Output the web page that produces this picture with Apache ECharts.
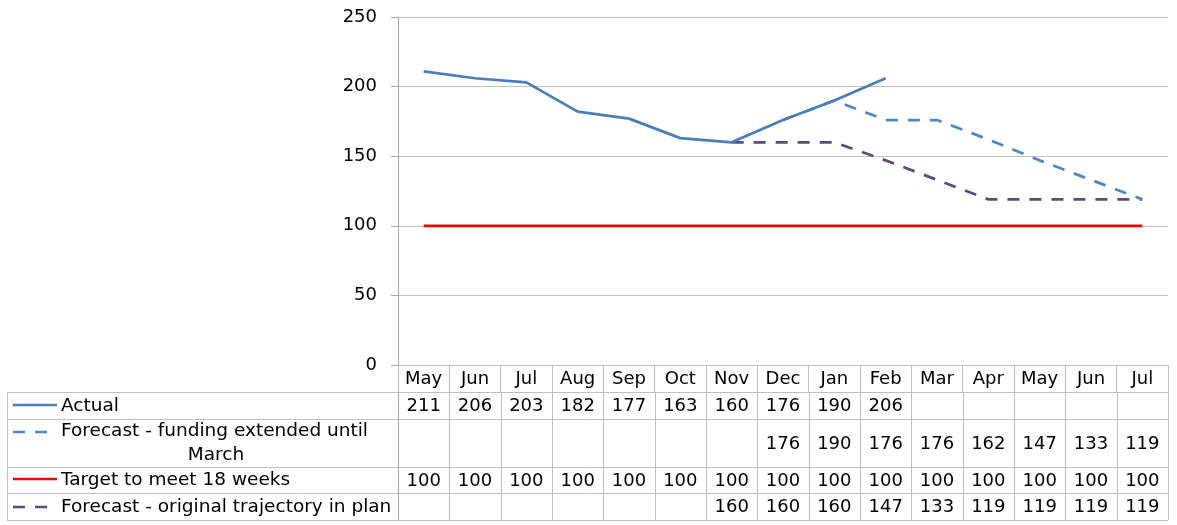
<!DOCTYPE html>
<html><head><meta charset="utf-8">
<script src="https://cdn.jsdelivr.net/npm/echarts@6/dist/echarts.min.js"></script>
<style>html,body{margin:0;padding:0;background:#fff}#c{width:1177px;height:525px}</style>
</head><body><div id="c"></div>
<script>
const months = ['May','Jun','Jul','Aug','Sep','Oct','Nov','Dec','Jan','Feb','Mar','Apr','May','Jun','Jul'];
const actual = [211,206,203,182,177,163,160,176,190,206,null,null,null,null,null];
const forecastFunding = [null,null,null,null,null,null,null,176,190,176,176,162,147,133,119];
const target = [100,100,100,100,100,100,100,100,100,100,100,100,100,100,100];
const forecastOriginal = [null,null,null,null,null,null,160,160,160,147,133,119,119,119,119];
const seriesNames = ['Actual','Forecast - funding extended until March','Target to meet 18 weeks','Forecast - original trajectory in plan'];
const yMin = 0, yMax = 250, yStep = 50;

const FONT = 'DejaVu Sans';
const FS = 18;
const LFS = 18.5;
const GRIDC = '#BFBFBF';
const colors = ['#4A7EBB','#4F86C6','#FF0000','#5F497A'];

const chart = echarts.init(document.getElementById('c'), null, {renderer:'canvas'});
const lineSeries = (name, data, color, dashed, z) => ({
  name, type:'line', data, symbol:'none', connectNulls:false, z,
  lineStyle:{color, width:2.75, type: dashed ? [12,10] : 'solid', cap:'butt', join:'round'},
  itemStyle:{color}, emphasis:{disabled:true}, silent:true
});
chart.setOption({
  animation:false,
  grid:{left:398, right:9, top:17, bottom:160, containLabel:false},
  xAxis:{type:'category', data:months, boundaryGap:true,
    axisLine:{show:true, lineStyle:{color:GRIDC, width:1}},
    axisTick:{show:true, length:27, interval:0, alignWithLabel:false, lineStyle:{color:GRIDC}},
    axisLabel:{interval:0, margin:14, verticalAlign:'middle', color:'#000', fontFamily:FONT, fontSize:FS}
  },
  yAxis:{type:'value', min:yMin, max:yMax, interval:yStep,
    axisLine:{show:true, lineStyle:{color:'#A6A6A6'}},
    axisTick:{show:true, length:7, lineStyle:{color:'#A6A6A6'}},
    axisLabel:{margin:21, color:'#000', fontFamily:FONT, fontSize:FS},
    splitLine:{show:true, lineStyle:{color:GRIDC, width:1}}
  },
  series:[
    lineSeries(seriesNames[0], actual, colors[0], false, 5),
    lineSeries(seriesNames[1], forecastFunding, colors[1], true, 4),
    lineSeries(seriesNames[2], target, colors[2], false, 3),
    lineSeries(seriesNames[3], forecastOriginal, colors[3], true, 2)
  ]
});

// data table built from the axis scale
const centers = months.map((m,i)=>chart.convertToPixel({xAxisIndex:0}, i));
const colW = centers.length>1 ? centers[1]-centers[0] : 50;
const plotLeft = centers[0]-colW/2, plotRight = centers[centers.length-1]+colW/2;
const tableLeft = 7, headerTop = chart.convertToPixel({yAxisIndex:0}, yMin);
const rowB = [392, 419, 467, 493, 520];
const rowData = [actual, forecastFunding, target, forecastOriginal];
const els = [];
const ln = (x1,y1,x2,y2,c,w,dash)=>els.push({type:'line', silent:true, shape:{x1,y1,x2,y2}, style:{stroke:c||GRIDC, lineWidth:w||1, lineDash:dash||null}});
const tx = (x,y,t,align,fs)=>els.push({type:'text', silent:true, x, y, style:{text:t, fill:'#000', font:(fs||FS)+'px "'+FONT+'"', textAlign:align||'center', textVerticalAlign:'middle'}});
rowB.forEach(y=>ln(tableLeft, y+0.5, plotRight, y+0.5));
ln(tableLeft+0.5, rowB[0], tableLeft+0.5, rowB[rowB.length-1]);
ln(Math.round(plotLeft)+0.5, headerTop, Math.round(plotLeft)+0.5, rowB[rowB.length-1], '#A6A6A6');
for (let i=1;i<=months.length;i++){ const x=Math.round(plotLeft+i*colW)+0.5; ln(x, rowB[0], x, rowB[rowB.length-1]); }
rowData.forEach((arr,r)=>{
  const yc=(rowB[r]+rowB[r+1])/2;
  arr.forEach((v,i)=>{ if(v!=null) tx(centers[i], yc+1, String(v)); });
});
// legend keys + labels
const keyY = [405, 432, 479, 507];
const textX = 61;
[0,1,2,3].forEach(r=>{
  const dashed = r===1||r===3;
  ln(13, keyY[r], dashed?48:57, keyY[r], colors[r], 2.5, dashed?[12,10]:null);
});
tx(textX, 406, seriesNames[0], 'left', LFS);
tx(textX, 431, 'Forecast - funding extended until', 'left', LFS);
tx(216, 455, 'March', 'center', LFS);
tx(textX, 480, seriesNames[2], 'left', LFS);
tx(textX, 507, seriesNames[3], 'left', LFS);
chart.setOption({graphic:{elements:els}});
</script></body></html>
